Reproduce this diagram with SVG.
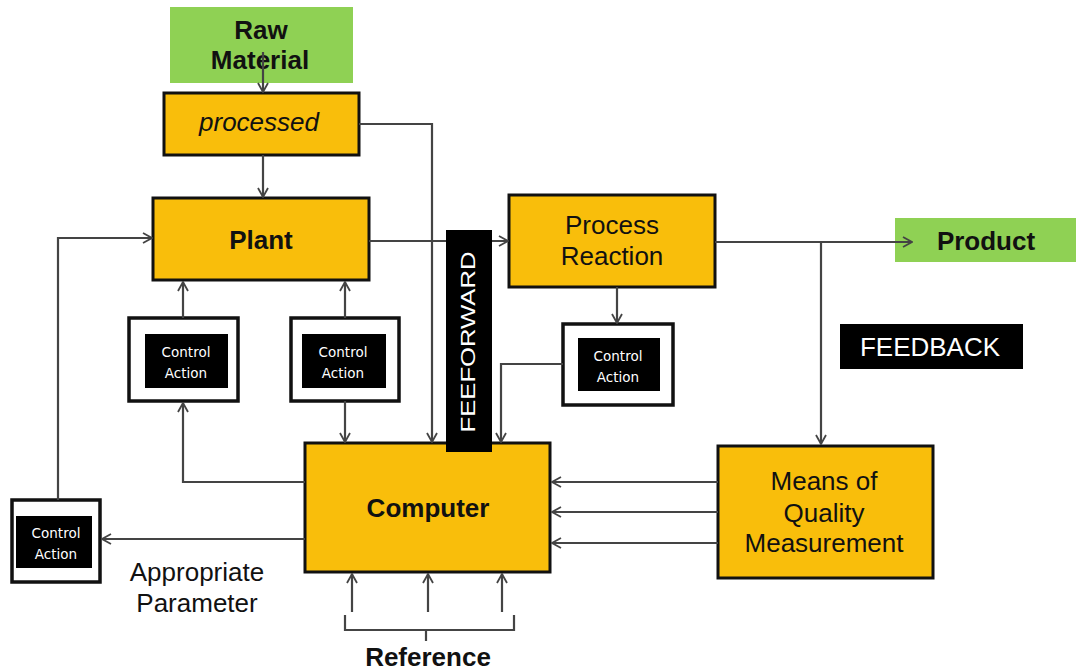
<svg xmlns="http://www.w3.org/2000/svg" width="1076" height="672" viewBox="0 0 1076 672">
<defs>
<marker id="arr" viewBox="0 0 12 12" refX="11" refY="6" markerWidth="12" markerHeight="12" markerUnits="userSpaceOnUse" orient="auto">
<polyline points="2,1 11,6 2,11" fill="none" stroke="#444" stroke-width="1.8"/>
</marker>
<style>
.y{fill:#F9BE0B;stroke:#111;stroke-width:3}
.g{fill:#8FD154}
.ow{fill:#fff;stroke:#111;stroke-width:3.5}
.ib{fill:#000}
.c{fill:none;stroke:#444;stroke-width:2.2;marker-end:url(#arr)}
.l{fill:none;stroke:#444;stroke-width:2.2}
.t{font-family:"Liberation Sans",Arial,sans-serif;font-size:26px;fill:#111;text-anchor:middle}
.b{font-weight:bold}
.s{font-family:"DejaVu Sans","Liberation Sans",sans-serif;font-size:13.5px;fill:#fff;text-anchor:middle}
.w{font-family:"Liberation Sans",Arial,sans-serif;fill:#fff;text-anchor:middle}
</style>
</defs>
<rect width="1076" height="672" fill="#fff"/>

<g id="raw"><rect class="g" x="170" y="7" width="183" height="76"/><text class="t b" x="261" y="39">Raw</text><text class="t b" x="260" y="69">Material</text></g>
<g id="product"><rect class="g" x="895" y="218" width="181" height="44"/><text class="t b" x="986" y="250">Product</text></g>

<g id="processed"><rect class="y" x="164" y="93" width="195" height="62"/><text class="t" font-style="italic" x="259" y="131">processed</text></g>
<g id="plant"><rect class="y" x="153" y="198" width="216" height="82"/><text class="t b" x="261" y="249">Plant</text></g>
<g id="reaction"><rect class="y" x="509" y="195" width="206" height="92"/><text class="t" x="612" y="234">Process</text><text class="t" x="612" y="265">Reaction</text></g>
<g id="computer"><rect class="y" x="305" y="443" width="245" height="129"/><text class="t b" x="428" y="517">Computer</text></g>
<g id="means"><rect class="y" x="718" y="446" width="215" height="132"/><text class="t" x="824" y="490">Means of</text><text class="t" x="824" y="522">Quality</text><text class="t" x="824" y="552">Measurement</text></g>

<g id="ca1"><rect class="ow" x="129" y="318" width="109" height="83"/><rect class="ib" x="145" y="334" width="83" height="54"/><text class="s" x="186" y="357">Control</text><text class="s" x="186" y="378">Action</text></g>
<g id="ca2"><rect class="ow" x="291" y="318" width="108" height="83"/><rect class="ib" x="302" y="334" width="84" height="54"/><text class="s" x="343" y="357">Control</text><text class="s" x="343" y="378">Action</text></g>
<g id="ca3"><rect class="ow" x="563" y="324" width="110" height="81"/><rect class="ib" x="578" y="338" width="82" height="53"/><text class="s" x="618" y="361">Control</text><text class="s" x="618" y="382">Action</text></g>
<g id="ca4"><rect class="ow" x="12" y="500" width="88" height="82"/><rect class="ib" x="16" y="516" width="76" height="52"/><text class="s" x="56" y="538">Control</text><text class="s" x="56" y="559">Action</text></g>

<g id="connectors">
<path class="c" d="M263,52 V92"/>
<path class="c" d="M263,155 V197"/>
<path class="c" d="M359,124 H432 V442"/>
<path class="c" d="M369,241 H508"/>
<path class="c" d="M715,242 H912"/>
<path class="c" d="M821,242 V444"/>
<path class="c" d="M183,318 V282"/>
<path class="c" d="M305,482 H183 V403"/>
<path class="c" d="M345,318 V282"/>
<path class="c" d="M345,401 V442"/>
<path class="c" d="M617,287 V323"/>
<path class="c" d="M563,364 H501 V442"/>
<path class="c" d="M305,539 H102"/>
<path class="c" d="M58,500 V238 H152"/>
<path class="c" d="M718,482 H552"/>
<path class="c" d="M718,512 H552"/>
<path class="c" d="M718,543 H552"/>
<path class="c" d="M352,612 V574"/>
<path class="c" d="M428,612 V574"/>
<path class="c" d="M502,612 V574"/>
<path class="l" d="M345,615 V630 H514 V615 M426,630 V641"/>
</g>

<g id="feedforward"><rect x="446" y="230" width="46" height="222" fill="#000"/><text class="w" font-size="21" textLength="181" lengthAdjust="spacingAndGlyphs" transform="translate(475,342) rotate(-90)">FEEFORWARD</text></g>
<g id="feedback"><rect x="840" y="324" width="183" height="45" fill="#000"/><text class="w" font-size="26" x="930" y="356">FEEDBACK</text></g>

<g id="labels">
<text class="t" x="197" y="581">Appropriate</text>
<text class="t" x="197" y="612">Parameter</text>
<text class="t b" x="428" y="666">Reference</text>
</g>
</svg>
